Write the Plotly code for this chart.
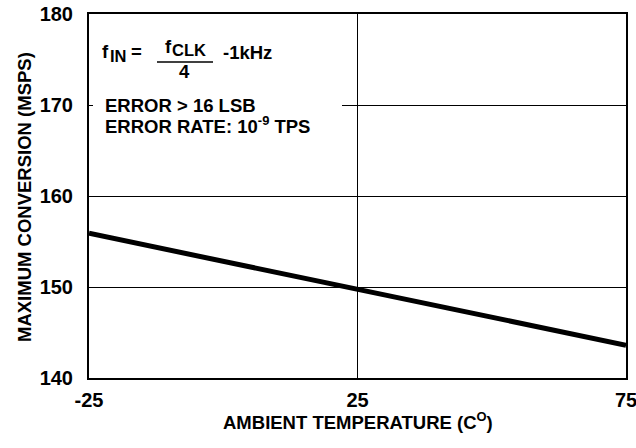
import plotly.graph_objects as go

# ---- data ----
temperature = [-25, 25, 75]
max_conversion = [155.9, 149.8, 143.6]
x_ticks = [-25, 25, 75]
y_ticks = [140, 150, 160, 170, 180]

W, H = 636, 448
L, R, T, B = 89, 10, 14, 70
PW, PH = W - L - R, H - T - B

def px(xpix):
    return (xpix - L) / PW

def py(ypix):
    return (H - B - ypix) / PH

FONT = "Liberation Sans, Arial, Helvetica, sans-serif"
fs_tick = 20
fs = 18.5
fs_sub = 16.5

fig = go.Figure()
fig.add_trace(go.Scatter(x=temperature, y=max_conversion, mode="lines",
                         line=dict(color="black", width=5), hoverinfo="skip"))

axis_common = dict(showline=True, linecolor="black", linewidth=2, mirror=True,
                   showgrid=True, gridcolor="black", gridwidth=1, zeroline=False,
                   ticks="", ticklabeloverflow="allow",
                   tickfont=dict(family=FONT, size=fs_tick, color="black", weight="bold"))

fig.update_xaxes(range=[-25, 75], tickvals=x_ticks, ticktext=[str(v) for v in x_ticks],
                 ticklabelstandoff=3, **axis_common)
fig.update_yaxes(range=[140, 180], tickvals=y_ticks, ticktext=[str(v) for v in y_ticks],
                 ticklabelstandoff=10, **axis_common)

def ann(text, xpix, ypix, xanchor="left", yanchor="middle", size=fs, angle=0):
    fig.add_annotation(text=text, x=px(xpix), y=py(ypix), xref="paper", yref="paper",
                       xanchor=xanchor, yanchor=yanchor, showarrow=False, textangle=angle,
                       font=dict(family=FONT, size=size, color="black", weight="bold"))

# white box covering gridline behind text
fig.add_shape(type="rect", xref="paper", yref="paper", x0=px(93), x1=px(342),
              y0=py(117), y1=py(95), fillcolor="white", line=dict(width=0), layer="above")
# fraction bar
fig.add_shape(type="line", xref="paper", yref="paper", x0=px(157), x1=px(213),
              y0=py(62), y1=py(62), line=dict(color="black", width=1.5))

# f_IN = f_CLK / 4 - 1kHz
ann("f", 100, 51.5)
ann("IN", 108, 56, size=fs_sub)
ann("=", 129, 52)
ann("f", 163, 46)
ann("CLK", 170, 50, size=fs_sub)
ann("4", 184, 71, xanchor="center")
ann("-1kHz", 221, 52.5)

ann("ERROR > 16 LSB", 103, 105)
ann("ERROR RATE: 10<sup>-9</sup> TPS", 103, 125)

ann("AMBIENT TEMPERATURE (C<sup>O</sup>)", 358, 421, xanchor="center")
ann("MAXIMUM CONVERSION (MSPS)", 24, 197, xanchor="center", angle=-90)

fig.update_layout(width=W, height=H, margin=dict(l=L, r=R, t=T, b=B, autoexpand=False),
                  paper_bgcolor="white", plot_bgcolor="white", showlegend=False)

fig.write_html("out.html", config={"displayModeBar": False},
               post_script="document.body.style.margin='0';document.body.style.padding='0';")
